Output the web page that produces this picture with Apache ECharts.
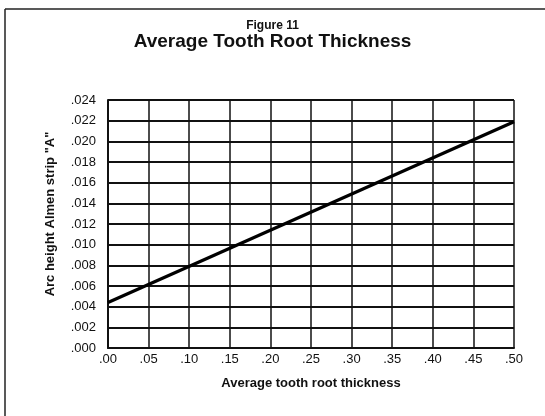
<!DOCTYPE html>
<html>
<head>
<meta charset="utf-8">
<script src="https://cdn.jsdelivr.net/npm/echarts@6/dist/echarts.min.js"></script>
<style>
  html, body { margin: 0; padding: 0; background: #fff; }
  #chart { width: 545px; height: 416px; }
</style>
</head>
<body>
<div id="chart"></div>
<script>
// values
const thickness = [0.0, 0.5]
const arcHeight = [0.0044, 0.0219]
const xTicks = { min: 0, max: 0.5, step: 0.05 }
const yTicks = { min: 0, max: 0.024, step: 0.002 }

const narrow = "'Liberation Sans Narrow', 'Liberation Sans', Arial, sans-serif"
const chart = echarts.init(document.getElementById('chart'))

chart.setOption({
  backgroundColor: '#fff',
  animation: false,
  title: [
    {
      text: 'Figure 11',
      left: 'center',
      top: 15,
      textStyle: { fontFamily: narrow, fontWeight: 'bold', fontSize: 12, color: '#111' },
    },
    {
      text: 'Average Tooth Root Thickness',
      left: 'center',
      top: 27,
      textStyle: { fontFamily: "'Liberation Sans', Arial, sans-serif", fontWeight: 'bold', fontSize: 19, color: '#111' },
    },
  ],
  // page frame: top and left rules only
  graphic: [
    { type: 'line', shape: { x1: 5, y1: 9, x2: 545, y2: 9 }, style: { stroke: '#222', lineWidth: 1.5 } },
    { type: 'line', shape: { x1: 5, y1: 9, x2: 5, y2: 416 }, style: { stroke: '#222', lineWidth: 1.5 } },
  ],
  grid: { left: 108, right: 31, top: 100, bottom: 68 },
  xAxis: {
    type: 'value',
    min: xTicks.min,
    max: xTicks.max,
    interval: xTicks.step,
    name: 'Average tooth root thickness',
    nameLocation: 'middle',
    nameGap: 29,
    nameTextStyle: { fontFamily: narrow, fontWeight: 'bold', fontSize: 13, color: '#111' },
    axisLine: { show: true, lineStyle: { color: '#111', width: 2 } },
    axisTick: { show: false },
    axisLabel: {
      fontFamily: narrow,
      fontSize: 13,
      color: '#111',
      margin: 5,
      formatter: (v) => v.toFixed(2).replace(/^0/, ''),
    },
    splitLine: { show: true, lineStyle: { color: '#111', width: 1.5 } },
  },
  yAxis: {
    type: 'value',
    min: yTicks.min,
    max: yTicks.max,
    interval: yTicks.step,
    name: 'Arc height Almen strip "A"',
    nameLocation: 'middle',
    nameGap: 51,
    nameTextStyle: { fontFamily: narrow, fontWeight: 'bold', fontSize: 13, color: '#111', padding: [0, 0, 0, 20] },
    axisLine: { show: true, lineStyle: { color: '#111', width: 2 } },
    axisTick: { show: false },
    axisLabel: {
      fontFamily: narrow,
      fontSize: 13,
      color: '#111',
      margin: 12,
      formatter: (v) => v.toFixed(3).replace(/^0/, ''),
    },
    splitLine: { show: true, lineStyle: { color: '#111', width: 1.8 } },
  },
  series: [
    {
      type: 'line',
      data: thickness.map((x, i) => [x, arcHeight[i]]),
      symbol: 'none',
      lineStyle: { color: '#000', width: 3.2 },
    },
  ],
})
</script>
</body>
</html>
